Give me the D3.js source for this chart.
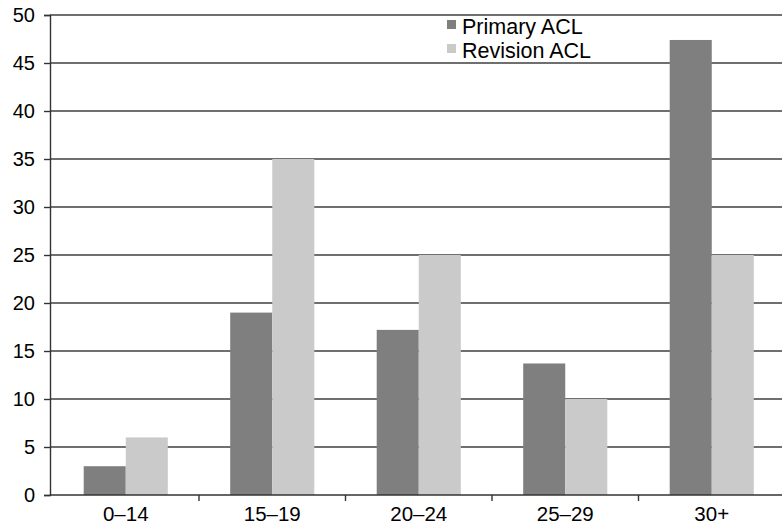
<!DOCTYPE html>
<html>
<head>
<meta charset="utf-8">
<script src="https://cdn.jsdelivr.net/npm/d3@7"></script>
<style>
  html, body { margin: 0; padding: 0; background: #fff; }
  svg { display: block; }
  text { font-family: "Liberation Sans", Arial, sans-serif; fill: #000; }
</style>
</head>
<body>
<svg id="chart" width="782" height="524"></svg>
<script>
// Age groups and percentages of ACL reconstructions
const categories = ["0–14", "15–19", "20–24", "25–29", "30+"];
const primaryACL = [3, 19, 17.2, 13.7, 47.4];
const revisionACL = [6, 35, 25, 10, 25];
const seriesNames = ["Primary ACL", "Revision ACL"];
const yTicks = [0, 5, 10, 15, 20, 25, 30, 35, 40, 45, 50];

const colors = ["#7f7f7f", "#c9cac9"];
const svg = d3.select("#chart");

const x = d3.scaleBand().domain(categories).range([52.5, 785]).paddingInner(0).paddingOuter(0);
const y = d3.scaleLinear().domain([0, 50]).range([495, 15]);
const barW = x.step() * 0.287;

// horizontal gridlines
svg.append("g").selectAll("line").data(yTicks.filter(d => d > 0)).join("line")
  .attr("x1", 50).attr("x2", 782)
  .attr("y1", d => y(d)).attr("y2", d => y(d))
  .attr("stroke", "#3f3f3f").attr("stroke-width", 1.5);

// bars
const series = [primaryACL, revisionACL];
series.forEach((vals, si) => {
  svg.append("g").selectAll("rect").data(categories).join("rect")
    .attr("x", d => x(d) + x.bandwidth() / 2 + (si - 1) * barW)
    .attr("width", barW)
    .attr("y", (d, i) => y(vals[i]))
    .attr("height", (d, i) => y(0) - y(vals[i]))
    .attr("fill", colors[si]);
});

// y axis
const yAxis = svg.append("g").attr("transform", "translate(50,0)")
  .call(d3.axisLeft(y).tickValues(yTicks).tickSize(6).tickPadding(9));
yAxis.selectAll("path, line").attr("stroke", "#333").attr("stroke-width", 1.4);
yAxis.selectAll("text").attr("font-size", 20).attr("font-family", null).attr("fill", "#000");

// x axis: ticks at category boundaries
const bounds = categories.map(c => x(c)).slice(1);
svg.append("line").attr("x1", 50).attr("x2", 782).attr("y1", y(0)).attr("y2", y(0))
  .attr("stroke", "#333").attr("stroke-width", 1.4);
svg.append("g").selectAll("line").data(bounds).join("line")
  .attr("x1", d => d).attr("x2", d => d)
  .attr("y1", y(0)).attr("y2", y(0) + 6)
  .attr("stroke", "#333").attr("stroke-width", 1.4);
svg.append("g").selectAll("text").data(categories).join("text")
  .attr("x", d => x(d) + x.bandwidth() / 2)
  .attr("y", 521)
  .attr("text-anchor", "middle")
  .attr("font-size", 20.5)
  .text(d => d);

// legend
const legend = svg.append("g").attr("transform", "translate(447,20)");
seriesNames.forEach((name, i) => {
  legend.append("rect").attr("x", 0).attr("y", i * 24).attr("width", 9).attr("height", 9).attr("fill", colors[i]);
  legend.append("text").attr("x", 15).attr("y", i * 24 + 13.5).attr("font-size", 21.5).text(name);
});
</script>
</body>
</html>
